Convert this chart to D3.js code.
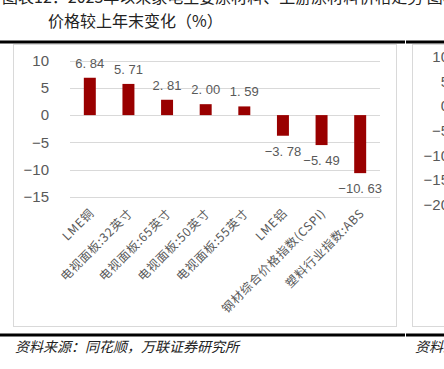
<!DOCTYPE html>
<html>
<head>
<meta charset="utf-8">
<script src="https://cdn.jsdelivr.net/npm/d3@7"></script>
<style>
	html, body { margin: 0; padding: 0; background: #fff; overflow: hidden; }
	svg { display: block; }
</style>
</head>
<body>
<div id="chart"></div>
<script>
// data
var categories = ['LME铜', '电视面板:32英寸', '电视面板:65英寸', '电视面板:50英寸', '电视面板:55英寸', 'LME铝', '钢材综合价格指数(CSPI)', '塑料行业指数:ABS'];
var values = [6.84, 5.71, 2.81, 2.00, 1.59, -3.78, -5.49, -10.63];
var yTicks = [10, 5, 0, -5, -10, -15];
var sideTicks = [10, 5, 0, -5, -10, -15, -20];

var width = 444, height = 369;
var cjk = '"Noto Sans CJK SC", sans-serif';
var latin = '"Liberation Sans", Arial, sans-serif';
var gray = '#595959';

var svg = d3.select('#chart').append('svg')
	.attr('width', width)
	.attr('height', height);

// header text (top line is cut off by the crop)
svg.append('text')
	.attr('x', 2).attr('y', 3)
	.style('font-family', cjk).style('font-size', '16px').attr('fill', '#222')
	.text('图表12：2023年以来家电主要原材料、上游原材料价格走势     图表13：');

svg.append('text')
	.attr('x', 48).attr('y', 27)
	.style('font-family', cjk).style('font-size', '16px').attr('fill', '#222')
	.text('价格较上年末变化（%）');

// thick rules
[[0, 405, 42], [406, 444, 42], [0, 405, 335], [406, 444, 335]].forEach(function (d) {
	svg.append('line')
		.attr('x1', d[0]).attr('x2', d[1]).attr('y1', d[2]).attr('y2', d[2])
		.attr('stroke', '#000').attr('stroke-width', 3);
});

// chart boxes
svg.append('rect')
	.attr('x', 13.5).attr('y', 44.5).attr('width', 383).attr('height', 282)
	.attr('fill', '#fff').attr('stroke', '#d9d9d9').attr('stroke-width', 1);
svg.append('rect')
	.attr('x', 412.5).attr('y', 44.5).attr('width', 60).attr('height', 282)
	.attr('fill', '#fff').attr('stroke', '#d9d9d9').attr('stroke-width', 1);

// scales
var x = d3.scaleBand().domain(categories).range([70.5, 379.5]).paddingInner(0.69).paddingOuter(0.345);
var y = d3.scaleLinear().domain([-15, 10]).range([197, 60.5]);

// gridlines
svg.append('g').selectAll('line')
	.data(yTicks)
	.join('line')
	.attr('x1', 70).attr('x2', 380)
	.attr('y1', function (d) { return Math.round(y(d)) + 0.5; })
	.attr('y2', function (d) { return Math.round(y(d)) + 0.5; })
	.attr('stroke', '#d9d9d9').attr('stroke-width', 1);

// y axis labels
var yAxis = svg.append('g').attr('transform', 'translate(49,0)')
	.call(d3.axisLeft(y).tickValues(yTicks).tickSize(0).tickPadding(0).tickFormat(function (d) { return d3.format('d')(d).replace('-', '−'); }));
yAxis.select('.domain').remove();
yAxis.selectAll('text')
	.style('font-family', latin).style('font-size', '15px').attr('fill', gray);

// bars
svg.append('g').selectAll('rect')
	.data(values)
	.join('rect')
	.attr('x', function (d, i) { return x(categories[i]); })
	.attr('width', x.bandwidth())
	.attr('y', function (d) { return y(Math.max(0, d)); })
	.attr('height', function (d) { return Math.abs(y(d) - y(0)); })
	.attr('fill', '#990000');

// value labels
svg.append('g').selectAll('text')
	.data(values)
	.join('text')
	.attr('x', function (d, i) { return x(categories[i]) + x.bandwidth() / 2; })
	.attr('y', function (d) { return d >= 0 ? y(d) - 10 : y(d) + 20; })
	.attr('text-anchor', 'middle')
	.style('font-family', latin).style('font-size', '13px').attr('fill', gray)
	.text(function (d) { return d3.format('.2f')(d).replace('-', '−').replace('.', '. '); });

// category labels
svg.append('g').selectAll('text')
	.data(categories)
	.join('text')
	.attr('transform', function (d) {
		return 'translate(' + (x(d) + x.bandwidth() / 2 + 5) + ',214) rotate(-45)';
	})
	.attr('text-anchor', 'end')
	.style('font-family', cjk).style('font-size', '12px').style('letter-spacing', '0.8px').attr('fill', gray)
	.text(function (d) { return d; });

// neighbour chart tick labels (cropped at right edge)
var ySide = d3.scaleLinear().domain([-20, 10]).range([205, 57]);
svg.append('g').selectAll('text')
	.data(sideTicks)
	.join('text')
	.attr('x', 449)
	.attr('y', function (d) { return ySide(d) + 5; })
	.attr('text-anchor', 'end')
	.style('font-family', latin).style('font-size', '15px').attr('fill', gray)
	.text(function (d) { return String(d).replace('-', '−'); });

// source notes
svg.append('text')
	.attr('x', 15).attr('y', 352)
	.style('font-family', cjk).style('font-size', '14px').style('font-style', 'italic').attr('fill', '#222')
	.text('资料来源：同花顺，万联证券研究所');
svg.append('text')
	.attr('x', 415).attr('y', 352)
	.style('font-family', cjk).style('font-size', '14px').style('font-style', 'italic').attr('fill', '#222')
	.text('资料来源');
</script>
</body>
</html>
